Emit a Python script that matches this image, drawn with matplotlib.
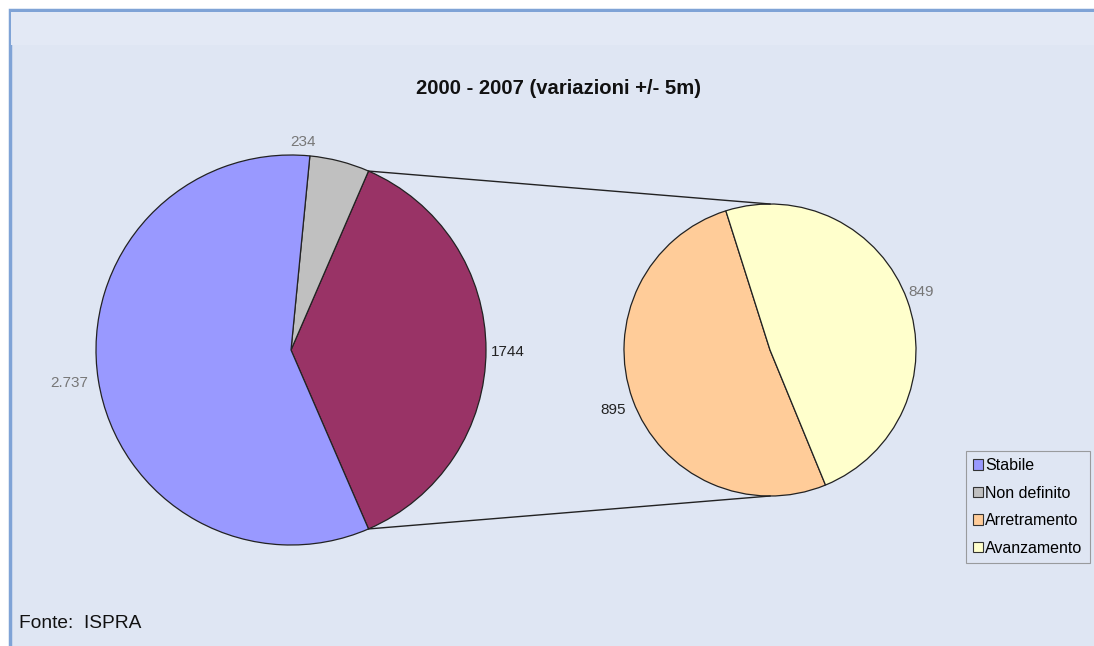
import matplotlib
matplotlib.use('Agg')
import matplotlib.pyplot as plt
from matplotlib.patches import Rectangle, Patch
import numpy as np

plt.rcParams['font.family'] = ['Liberation Sans', 'DejaVu Sans']

# data
categories = ['Stabile', 'Non definito', 'Arretramento', 'Avanzamento']
colors = ['#9999FF', '#C0C0C0', '#FFCC99', '#FFFFCC']
stabile = 2737
non_definito = 234
arretramento = 895
avanzamento = 849
other_color = '#993366'
title = '2000 - 2007 (variazioni +/- 5m)'

W, H = 1094, 646
fig = plt.figure(figsize=(W / 100, H / 100), dpi=100)
fig.patch.set_facecolor('white')
ax = fig.add_axes([0, 0, 1, 1])

# chart area background with blue frame
ax.add_patch(Rectangle((10, -20), W + 20, H - 10 + 20, facecolor='#DFE6F3',
                       edgecolor='#7FA3D6', linewidth=2.5, zorder=0))
ax.add_patch(Rectangle((11, H - 45), W, 33, facecolor='#E3E9F5',
                       edgecolor='none', zorder=0))

edge = dict(edgecolor='#222222', linewidth=0.9)

# main pie: "other" slice centred on 3 o'clock
other = arretramento + avanzamento
main_vals = [other, non_definito, stabile]
total = sum(main_vals)
other_span = other / total * 360
start_main = -other_span / 2
c1, r1 = (291, 296), 195
ax.pie(main_vals, colors=[other_color, colors[1], colors[0]], startangle=start_main,
       center=c1, radius=r1, wedgeprops=edge, counterclock=True)

# secondary pie
sec_vals = [arretramento, avanzamento]
c2, r2 = (770, 296), 146
ax.pie(sec_vals, colors=[colors[2], colors[3]], startangle=107.6,
       center=c2, radius=r2, wedgeprops=edge, counterclock=True)

# connector lines
for sgn in (1, -1):
    a = np.radians(sgn * other_span / 2)
    p0 = (c1[0] + r1 * np.cos(a), c1[1] + r1 * np.sin(a))
    p1 = (c2[0], c2[1] + sgn * r2)
    ax.plot([p0[0], p1[0]], [p0[1], p1[1]], color='#222222', lw=1.0, zorder=3)

# data labels
labels = [
    ('234', (303, H - 142), 'center', '#777777'),
    ('1744', (491, H - 352), 'left', '#222222'),
    ('2.737', (88, H - 383), 'right', '#777777'),
    ('849', (908, H - 292), 'left', '#777777'),
    ('895', (626, H - 410), 'right', '#222222'),
]
for txt, pos, ha, col in labels:
    ax.text(pos[0], pos[1], txt, ha=ha, va='center', fontsize=11, color=col)

ax.text(559, H - 88, title, ha='center', va='center', fontsize=14.6,
        fontweight='bold', color='#111111')
ax.text(19, H - 624, 'Fonte:  ISPRA', ha='left', va='center', fontsize=13.8,
        color='#111111')

handles = [Patch(facecolor=c, edgecolor='#333333', linewidth=0.8) for c in colors]
leg = ax.legend(handles, categories, loc='upper left',
                bbox_to_anchor=(966 / W, 1 - 451 / H), bbox_transform=fig.transFigure,
                fontsize=11.5, frameon=True, fancybox=False, handlelength=0.6,
                handleheight=0.6, handletextpad=0.15, labelspacing=0.78,
                borderpad=0.45, borderaxespad=0)
leg.get_frame().set_facecolor('#DFE6F3')
leg.get_frame().set_edgecolor('#888888')
leg.get_frame().set_linewidth(0.8)

ax.set_xlim(0, W)
ax.set_ylim(0, H)
ax.set_aspect('equal')
ax.axis('off')

fig.savefig('out.png', dpi=100)
